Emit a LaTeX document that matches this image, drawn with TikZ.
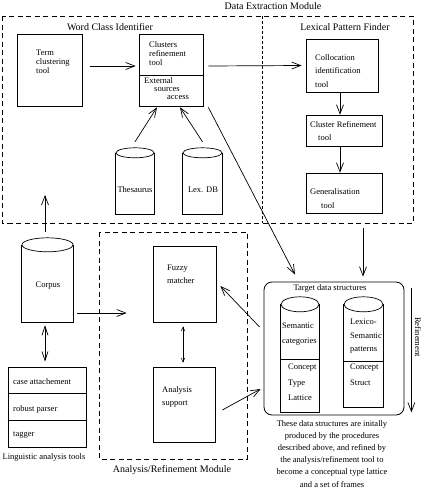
\documentclass[tikz,border=0pt]{standalone}
\usepackage{fontspec}
\setmainfont{Liberation Serif}
\usetikzlibrary{positioning,arrows.meta,calc}
\tikzset{
  every node/.style={font=\fontsize{8.5}{9}\selectfont, inner sep=0pt},
  tool/.style={draw, line width=0.7pt},
  txt/.style={align=left, anchor=north west},
  db/.style={rectangle},
  module/.style={draw, line width=0.8pt, dash pattern=on 5pt off 3.5pt},
  divider/.style={draw, line width=0.5pt, dash pattern=on 3pt off 2pt},
  title/.style={font=\fontsize{10}{12}\selectfont},
  arrow/.style={-{Straight Barb[length=9pt,width=7pt]}, line width=0.7pt},
  darrow/.style={{Straight Barb[length=9pt,width=6pt]}-{Straight Barb[length=9pt,width=6pt]}, line width=0.7pt},
  sarrow/.style={{Straight Barb[length=4pt,width=3.5pt]}-{Straight Barb[length=4pt,width=3.5pt]}, line width=0.6pt}
}
% cylinder outline round a db node: name, x radius, y radius of the lid
\newcommand{\dbdraw}[3]{%
  \draw[line width=0.7pt] ([yshift=-#3pt]#1.north west) -- (#1.south west)
    -- (#1.south east) -- ([yshift=-#3pt]#1.north east);
  \draw[line width=0.7pt] ([yshift=-#3pt]#1.north) ellipse[x radius=#2pt, y radius=#3pt];
}

\begin{document}
\begin{tikzpicture}[x=1pt, y=-1pt]
\useasboundingbox (0,0) rectangle (423,493);

%% ------------------------------------------------------------------
%% Data extraction module
%% ------------------------------------------------------------------
\draw[module] (2,16) rectangle (413,223);
\draw[divider] (262,16) -- (262,223);
\node[title] (dem) at (273,6) {Data Extraction Module};
\node[title] (wci) at (110,27) {Word Class Identifier};
\node[title] (lpf) at (345,27) {Lexical Pattern Finder};

% word class identifier
\node[tool, minimum width=65pt, minimum height=72pt] (term) at (49.5,70) {};
\node[txt] at (36,50) {Term\\clustering\\tool};

\node[tool, minimum width=64pt, minimum height=72pt] (clusters) at (171,70) {};
\draw[line width=0.6pt] (clusters.west |- 0,75) -- (clusters.east |- 0,75);
\node[txt] at (149,41) {Clusters\\refinement\\tool};
\node[txt, font=\fontsize{8.5}{8}\selectfont] at (144,77)
  {External\\\hspace*{10pt}sources\\\hspace*{23pt}access};

\node[db, minimum width=38pt, minimum height=66pt] (thes) at (135,181) {};
\dbdraw{thes}{19}{5}
\node (thestxt) at (135,190) {Thesaurus};
\node[db, minimum width=39pt, minimum height=66pt] (lexdb) at (202.5,181) {};
\dbdraw{lexdb}{19.5}{5}
\node (lexdbtxt) at (203,190) {Lex. DB};

% lexical pattern finder
\node[tool, minimum width=72pt, minimum height=53pt] (colloc) at (342,65.5) {};
\node[txt, font=\fontsize{8.5}{13.5}\selectfont] at (315,54) {Collocation\\identification\\tool};

\node[tool, minimum width=76pt, minimum height=31pt] (clref) at (344,130.5) {};
\node[txt, font=\fontsize{8.5}{13}\selectfont] at (310,121) {Cluster Refinement\\\hspace*{8pt}tool};

\node[tool, minimum width=76pt, minimum height=40pt] (general) at (344,193) {};
\node[txt, font=\fontsize{8.5}{14}\selectfont] at (310,188) {Generalisation\\\hspace*{11pt}tool};

\draw[arrow] ([xshift=8pt,yshift=4pt]term.east) -- ([xshift=-3pt,yshift=4pt]clusters.west);
\draw[arrow] ([xshift=5pt,yshift=4pt]clusters.east) -- ([xshift=-4pt]colloc.west);
\draw[arrow] ([xshift=-2pt]colloc.south) -- ([xshift=-4pt]clref.north);
\draw[arrow] ([xshift=-4pt]clref.south) -- ([xshift=-4pt]general.north);
\draw[arrow] ([yshift=6pt]thes.north) -- ([xshift=-14pt,yshift=-1pt]clusters.south);
\draw[arrow] ([yshift=6pt]lexdb.north) -- ([xshift=9pt,yshift=-1pt]clusters.south);

%% ------------------------------------------------------------------
%% Corpus and linguistic analysis tools
%% ------------------------------------------------------------------
\node[db, minimum width=51pt, minimum height=84pt] (corpus) at (47.5,280) {};
\dbdraw{corpus}{25.5}{7}
\node (corpustxt) at (48,286) {Corpus};

\node[tool, minimum width=78pt, minimum height=80pt] (ling) at (47,407) {};
\draw[line width=0.6pt] (ling.west |- 0,393.7) -- (ling.east |- 0,393.7);
\draw[line width=0.6pt] (ling.west |- 0,420.3) -- (ling.east |- 0,420.3);
\node[anchor=west] (case) at (13,382) {case attachement};
\node[anchor=west] (parser) at (13,409) {robust parser};
\node[anchor=west] (tagger) at (13,435) {tagger};
\node (lingtxt) at (44,457) {Linguistic analysis tools};

\coordinate (corpusup) at (45,195);
\draw[arrow] ([xshift=-2.5pt,yshift=6pt]corpus.north) -- (corpusup);
\draw[darrow] ([xshift=-2.5pt,yshift=-3pt]corpus.south) -- ([xshift=-2pt,yshift=5pt]ling.north);

%% ------------------------------------------------------------------
%% Analysis/refinement module
%% ------------------------------------------------------------------
\draw[module] (99,232) rectangle (247,459);
\node[title] (arm) at (172,470) {Analysis/Refinement Module};

\node[tool, minimum width=63pt, minimum height=76pt] (fuzzy) at (184.5,284) {};
\node[txt, font=\fontsize{8.5}{13}\selectfont] at (167,265) {Fuzzy\\matcher};
\node[tool, minimum width=62pt, minimum height=75pt] (analysis) at (184,404.5) {};
\node[txt, font=\fontsize{8.5}{13}\selectfont] at (162,386) {Analysis\\support};

\draw[arrow] ([xshift=4pt,yshift=-33pt]corpus.east) -- ([xshift=-26pt,yshift=-29pt]fuzzy.west);
\draw[sarrow] ([xshift=-1.5pt,yshift=-4pt]fuzzy.south) -- ([xshift=-1pt,yshift=4pt]analysis.north);

%% ------------------------------------------------------------------
%% Target data structures
%% ------------------------------------------------------------------
\node[draw, line width=0.8pt, rounded corners=8pt, minimum width=140pt, minimum height=133pt] (target) at (334,348.5) {};
\node (targettxt) at (330,288) {Target data structures};

\node[db, minimum width=38pt, minimum height=115pt] (semcat) at (300,354.5) {};
\dbdraw{semcat}{19}{7.5}
\draw[line width=0.6pt] (semcat.west |- 0,359) -- (semcat.east |- 0,359);
\node[txt, font=\fontsize{8.5}{15}\selectfont] at (282,323) {Semantic\\categories};
\node[txt, font=\fontsize{8.5}{15.5}\selectfont] at (288,364) {Concept\\Type\\Lattice};

\node[db, minimum width=39pt, minimum height=110pt] (lexsem) at (363.5,352) {};
\dbdraw{lexsem}{19.5}{7.5}
\draw[line width=0.6pt] (lexsem.west |- 0,361) -- (lexsem.east |- 0,361);
\node[txt, font=\fontsize{8.5}{13.5}\selectfont] at (350,319) {Lexico-\\Semantic\\patterns};
\node[txt, font=\fontsize{8.5}{16}\selectfont] at (350,364) {Concept\\Struct};

\draw[arrow] ([xshift=5pt,yshift=-1pt]clusters.south east) -- ([xshift=-39pt,yshift=7pt]target.north);
\draw[arrow] ([xshift=19pt,yshift=-15pt]general.south) -- ([xshift=29pt,yshift=5pt]target.north);
\draw[arrow] ([xshift=-4pt,yshift=21.5pt]target.west) -- ([xshift=4pt,yshift=-2pt]fuzzy.east);
\draw[arrow] ([xshift=7pt,yshift=-5.5pt]analysis.east) -- ([xshift=-3pt,yshift=-40.5pt]target.west);

% refinement direction
\draw[arrow] ([xshift=7pt,yshift=-6pt]target.north east) -- ([xshift=7pt,yshift=3pt]target.south east);
\node[rotate=-90] (refine) at (418,337) {Refinement};

\node[align=center, anchor=north, font=\fontsize{8.5}{12.2}\selectfont] (caption) at (332,420)
  {These data structures are initally\\produced by the procedures\\described above, and refined by\\the analysis/refinement tool to\\become a conceptual type lattice\\and a set of frames};

\end{tikzpicture}
\end{document}
